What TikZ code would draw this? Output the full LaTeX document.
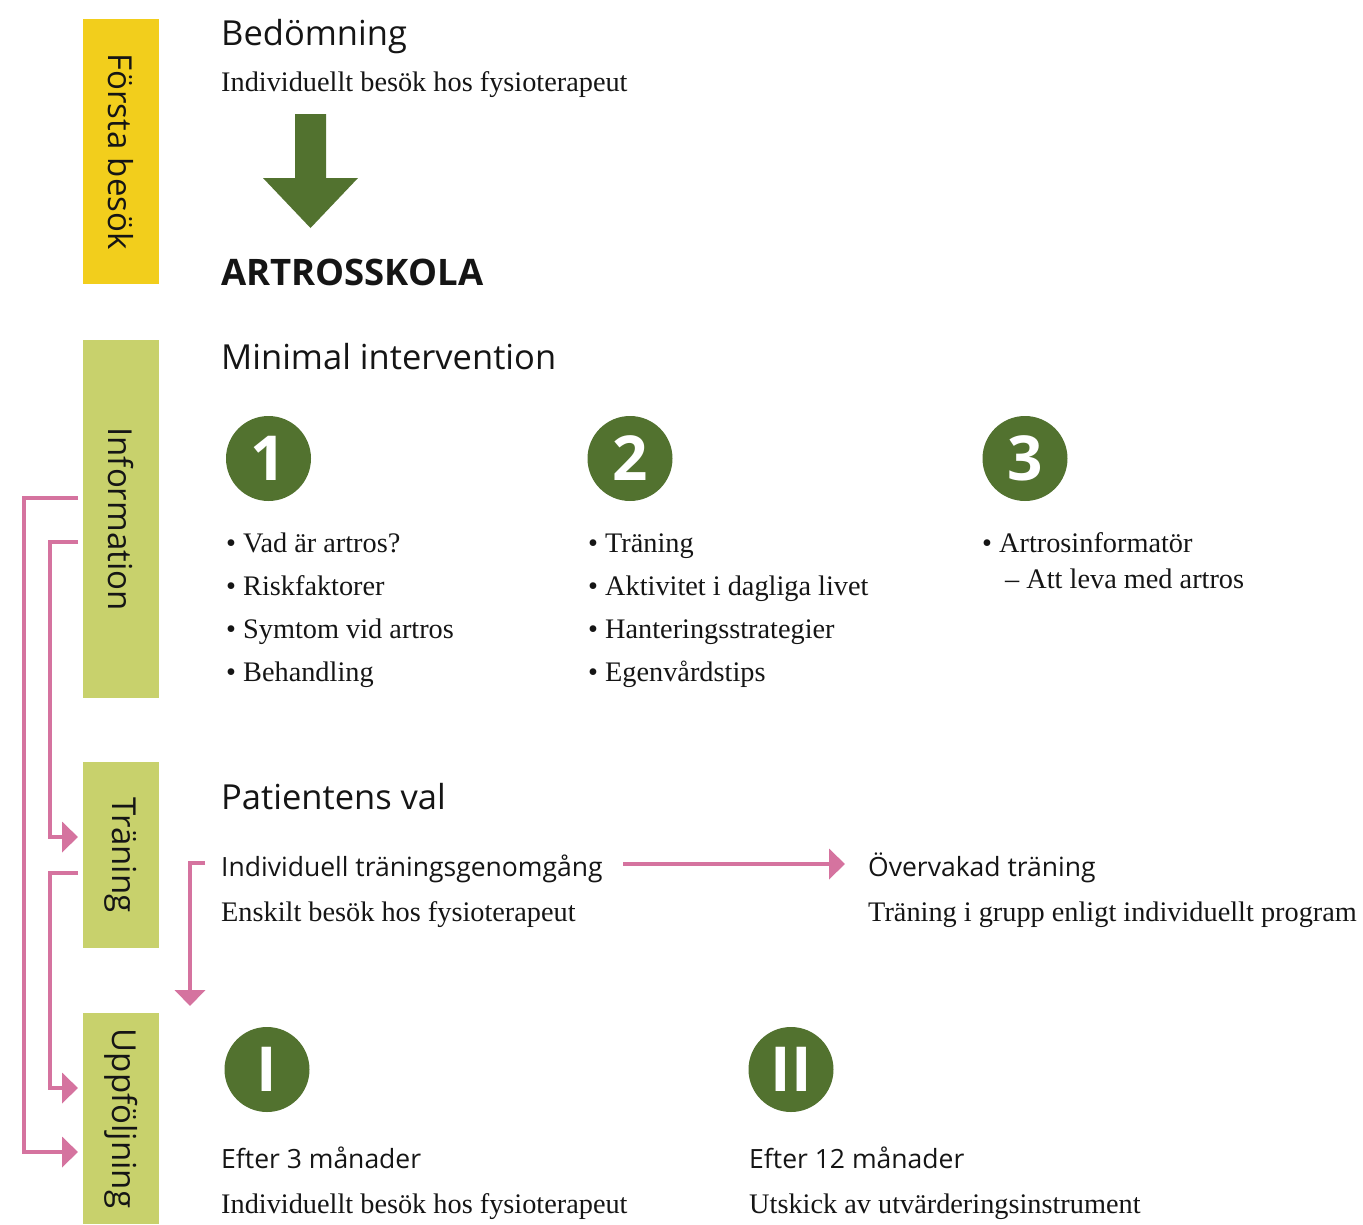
\documentclass[tikz,border=0pt]{standalone}
\usepackage{fontspec}
\setmainfont{Liberation Serif}
\setsansfont{Open Sans}
\usetikzlibrary{arrows.meta}
\definecolor{fyellow}{HTML}{F2CE1C}
\definecolor{folive}{HTML}{C8D16C}
\definecolor{fgreen}{HTML}{52722F}
\definecolor{fpink}{HTML}{D5739F}
\definecolor{ftext}{HTML}{151515}
\begin{document}
\begin{tikzpicture}[x=1pt,y=-1pt,
  sidebox/.style={rotate=-90, inner sep=0pt, minimum height=76pt, text=ftext,
    font=\sffamily\fontsize{33}{38}\selectfont},
  numcirc/.style={circle, fill=fgreen, minimum size=85pt, inner sep=0pt, text=white,
    font=\sffamily\bfseries\fontsize{62}{62}\selectfont},
  txt/.style={anchor=base west, inner sep=0pt, text=ftext},
  heading/.style={txt, font=\sffamily\fontsize{34.5}{40}\selectfont},
  body/.style={txt, font=\fontsize{28.3}{33}\selectfont},
  lightsans/.style={txt, font=\sffamily\fontsize{26.5}{32}\selectfont},
  pinkarrow/.style={draw=fpink, line width=4.3pt, miter limit=10, -{Triangle[length=16pt,width=30pt]}},
]
\useasboundingbox (0,0) rectangle (1363,1224);

% side boxes
\node[sidebox, fill=fyellow, minimum width=265pt] (forsta) at (121,151.5) {Första besök};
\node[sidebox, fill=folive, minimum width=358pt] (info) at (121,519) {Information};
\node[sidebox, fill=folive, minimum width=186pt] (tran) at (121,855) {Träning};
\node[sidebox, fill=folive, minimum width=211pt] (upp) at (121,1118.5) {Uppföljning};

% top section
\node[heading] (bed) at (221,45) {Bedömning};
\node[body] (bedsub) at (221,91) {Individuellt besök hos fysioterapeut};
\fill[fgreen] (295,114) -- (326,114) -- (326,178) -- (358,178) -- (310.5,228) -- (263,178) -- (295,178) -- cycle;
\node[txt, font=\sffamily\bfseries\fontsize{36.5}{42}\selectfont] (artro) at (221,285) {ARTROSSKOLA};

% minimal intervention
\node[heading] (mini) at (221,369) {Minimal intervention};
\node[numcirc] (c1) at (268.5,458.5) {1};
\node[numcirc] (c2) at (630,458.5) {2};
\node[numcirc] (c3) at (1025,458.5) {3};

\node[body] (a1) at (226,552) {• Vad är artros?};
\node[body] (a2) at (226,595) {• Riskfaktorer};
\node[body] (a3) at (226,638) {• Symtom vid artros};
\node[body] (a4) at (226,681) {• Behandling};

\node[body] (b1) at (588,552) {• Träning};
\node[body] (b2) at (588,595) {• Aktivitet i dagliga livet};
\node[body] (b3) at (588,638) {• Hanteringsstrategier};
\node[body] (b4) at (588,681) {• Egenvårdstips};

\node[body] (d1) at (982,552) {• Artrosinformatör};
\node[body] (d2) at (1005,588) {– Att leva med artros};

% patientens val
\node[heading] (pval) at (221,809) {Patientens val};
\node[lightsans] (ind) at (221,876) {Individuell träningsgenomgång};
\node[body] (indsub) at (221,921) {Enskilt besök hos fysioterapeut};
\node[lightsans] (overv) at (868,876) {Övervakad träning};
\node[body] (overvsub) at (868,921) {Träning i grupp enligt individuellt program};

\coordinate (h0) at (623,864);
\coordinate (h1) at (845,864);
\draw[pinkarrow] (h0) -- (h1);

\coordinate (k0) at (205,863);
\coordinate (k1) at (190,1006);
\draw[pinkarrow] (k0) -| (k1);

% uppföljning
\node[numcirc] (r1) at (267,1069.5) {I};
\node[numcirc] (r2) at (791,1069.5) {II};
\node[lightsans] (e1) at (221,1168) {Efter 3 månader};
\node[body] (e1sub) at (221,1213) {Individuellt besök hos fysioterapeut};
\node[lightsans] (e2) at (749,1168) {Efter 12 månader};
\node[body] (e2sub) at (749,1213) {Utskick av utvärderingsinstrument};

% left connectors
\coordinate (L1s) at (78,498);
\coordinate (L1c) at (24,498);
\coordinate (L1e) at (78,1152);
\draw[pinkarrow] (L1s) -- (L1c) |- (L1e);

\coordinate (L2s) at (78,542);
\coordinate (L2c) at (50,542);
\coordinate (L2e) at (78,837);
\draw[pinkarrow] (L2s) -- (L2c) |- (L2e);

\coordinate (L3s) at (78,873);
\coordinate (L3c) at (50,873);
\coordinate (L3e) at (78,1088);
\draw[pinkarrow] (L3s) -- (L3c) |- (L3e);
\end{tikzpicture}
\end{document}
